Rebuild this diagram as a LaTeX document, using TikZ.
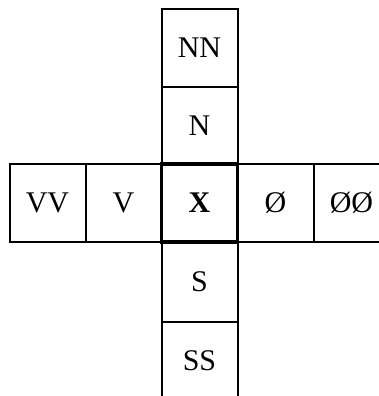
\documentclass[tikz,border=0pt]{standalone}
\usepackage{fontspec}
\setmainfont{Liberation Serif}
\usetikzlibrary{positioning}
\tikzset{
  cell/.style={draw, line width=2pt, minimum width=76pt, minimum height=77.5pt, inner sep=0pt, outer sep=0pt, text height=20pt, text depth=0pt, font=\fontsize{30}{36}\selectfont},
  midcell/.style={cell, draw=none},
  midframe/.style={line width=3.6pt},
}
\begin{document}
\begin{tikzpicture}[x=1pt,y=1pt]
  \useasboundingbox (0,0) rectangle (379,396);
  \clip (0,0) rectangle (379,396);
  % centre cell and its neighbours
  \node[midcell] (x) at (199.5,193) {\textbf{X}};
  \node[cell, above=0pt of x] (n) {N};
  \node[cell, above=0pt of n] (nn) {NN};
  \node[cell, below=0pt of x, minimum height=80pt] (s) {S};
  \node[cell, below=0pt of s] (ss) {SS};
  \node[cell, left=0pt of x] (v) {V};
  \node[cell, left=0pt of v] (vv) {VV};
  \node[cell, right=0pt of x] (o) {Ø};
  \node[cell, right=0pt of o] (oo) {ØØ};
  \draw[midframe] (x.south west) rectangle (x.north east);
\end{tikzpicture}
\end{document}
